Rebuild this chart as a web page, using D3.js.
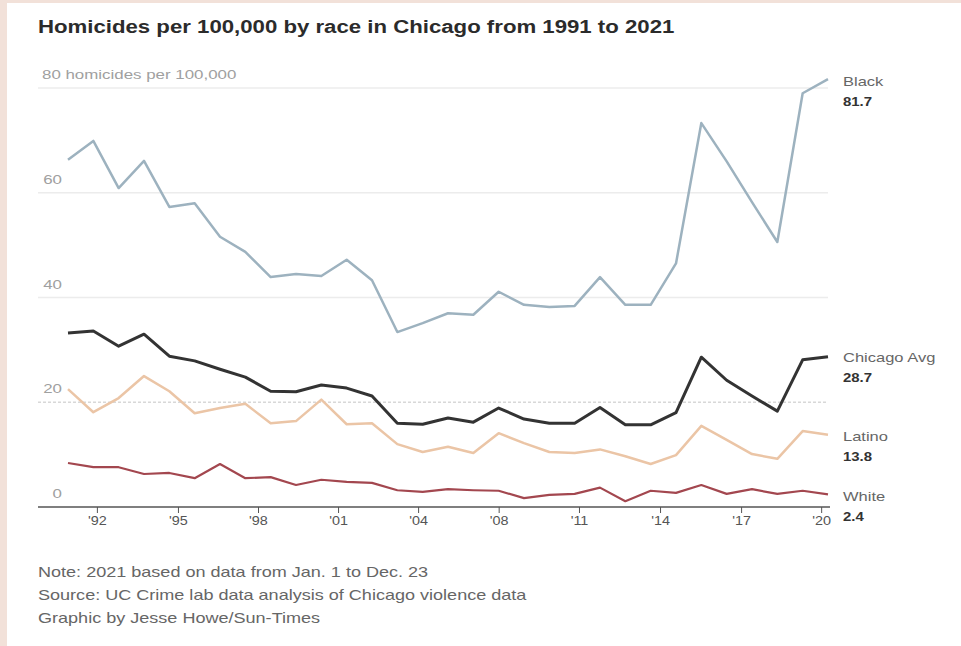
<!DOCTYPE html>
<html><head><meta charset="utf-8">
<script src="https://cdn.jsdelivr.net/npm/d3@7/dist/d3.min.js"></script>
<style>body{margin:0;background:#fff}svg{display:block;font-family:"Liberation Sans",Arial,sans-serif}</style>
</head><body><svg id="c" width="961" height="646"></svg>
<script>
const years = d3.range(1991, 2022);
const black = [66.3,69.9,60.9,66.1,57.3,58.0,51.6,48.7,43.9,44.5,44.1,47.2,43.3,33.4,35.1,37.0,36.7,41.1,38.6,38.2,38.4,43.9,38.6,38.6,46.5,73.3,66.0,58.2,50.6,79.0,81.7];
const avg   = [33.2,33.6,30.7,33.0,28.8,27.9,26.3,24.8,22.1,22.0,23.3,22.7,21.2,16.0,15.8,17.0,16.2,18.9,16.8,16.0,16.0,19.0,15.7,15.7,18.0,28.6,24.2,21.2,18.3,28.1,28.7];
const latino= [22.5,18.1,20.8,25.0,22.1,17.9,18.9,19.7,16.0,16.4,20.5,15.8,16.0,12.0,10.5,11.5,10.3,14.1,12.2,10.5,10.3,11.0,9.7,8.2,9.9,15.5,12.8,10.1,9.2,14.5,13.8];
const white = [8.4,7.6,7.6,6.3,6.5,5.5,8.2,5.5,5.7,4.2,5.2,4.8,4.6,3.2,2.9,3.4,3.2,3.1,1.7,2.3,2.5,3.7,1.1,3.1,2.7,4.2,2.5,3.4,2.5,3.1,2.4];
const seriesNames = ["Black","Chicago Avg","Latino","White"];
const seriesLast = ["81.7","28.7","13.8","2.4"];
const tickPos = [1992.14,1995.34,1998.5,2001.66,2004.82,2008.0,2011.17,2014.37,2017.57,2020.73];
const tickLabels = ["'92","'95","'98","'01","'04","'08","'11","'14","'17","'20"];
const yTicks = [0,20,40,60,80];
const title = "Homicides per 100,000 by race in Chicago from 1991 to 2021";
const notes = ["Note: 2021 based on data from Jan. 1 to Dec. 23","Source: UC Crime lab data analysis of Chicago violence data","Graphic by Jesse Howe/Sun-Times"];

const svg = d3.select("#c");
svg.append("rect").attr("width",961).attr("height",646).attr("fill","#f2e1d9");
svg.append("rect").attr("x",7).attr("y",3).attr("width",954).attr("height",643).attr("fill","#fff");

function txt(x0, y0, str, o){
  const g = svg.append("g").attr("transform",`translate(${x0},${y0}) scale(${o.sx||1},1)`);
  return g.append("text").attr("text-anchor",o.anchor||"start").attr("font-size",o.size)
    .attr("font-weight",o.weight||"normal").attr("fill",o.fill).text(str);
}

const x = d3.scaleLinear().domain([1991,2021]).range([68,828]);
const y = d3.scaleLinear().domain([0,80]).range([507,88]);

txt(38, 33, title, {size:18.5, weight:"bold", fill:"#2b2b2b", sx:1.2});

// gridlines
svg.append("g").selectAll("line").data(yTicks.filter(d=>d>0)).join("line")
  .attr("x1",38).attr("x2",828).attr("y1",d=>y(d)).attr("y2",d=>y(d))
  .attr("stroke",d=>d===20?"#d8d8d8":"#ececec").attr("stroke-width",1.5)
  .attr("stroke-dasharray",d=>d===20?"3,2":null);

// y labels
yTicks.forEach(d=>{
  if(d===80) txt(42, y(d)-9, "80 homicides per 100,000", {size:13, fill:"#a0a0a0", sx:1.3});
  else txt(62, y(d)-9, String(d), {size:13, fill:"#a0a0a0", sx:1.3, anchor:"end"});
});

// x axis
const ax = svg.append("g").attr("transform",`translate(0,${y(0)})`)
  .call(d3.axisBottom(x).tickValues(tickPos).tickFormat((d,i)=>tickLabels[i]).tickSize(6).tickPadding(3));
ax.select(".domain").remove();
ax.selectAll(".tick line").attr("stroke","#555");
ax.selectAll(".tick text").attr("font-size",12).attr("fill","#555")
  .attr("font-family","Liberation Sans, Arial, sans-serif").attr("transform","scale(1.2,1)");
svg.append("line").attr("x1",38).attr("x2",830).attr("y1",y(0)).attr("y2",y(0)).attr("stroke","#555").attr("stroke-width",1.5);

const line = d3.line().x((d,i)=>x(years[i])).y(d=>y(d));
const data = [black,avg,latino,white];
const colors = ["#9db2bf","#333333","#ebc5a6","#a3474f"];
const widths = [2.5,3,2.5,2.2];
[3,2,0,1].forEach(k=>{
  svg.append("path").datum(data[k]).attr("d",line).attr("fill","none")
    .attr("stroke",colors[k]).attr("stroke-width",widths[k]).attr("stroke-linejoin","round");
});

// end labels
const labY = [82,358,437,497];
seriesNames.forEach((n,k)=>{
  txt(843, labY[k]+4, n, {size:13, fill:"#666", sx:1.27});
  txt(843, labY[k]+24, seriesLast[k], {size:13, weight:"bold", fill:"#333", sx:1.15});
});

// notes
notes.forEach((d,i)=> txt(38, 577+i*23, d, {size:14, fill:"#666", sx:1.29}));
</script></body></html>
